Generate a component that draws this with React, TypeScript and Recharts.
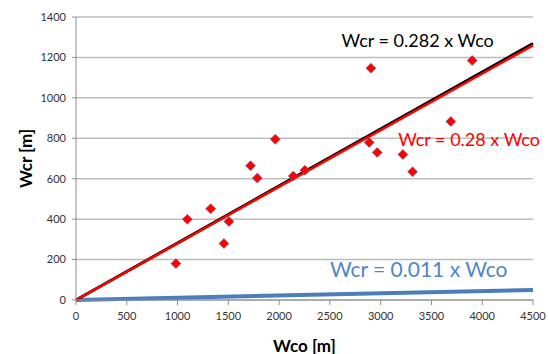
import React from 'react';
import {
  ComposedChart,
  Scatter,
  Line,
  XAxis,
  YAxis,
  CartesianGrid,
  ReferenceDot,
  Label,
} from 'recharts';

// measured points: Wco [m] vs Wcr [m]
const wco = [984, 1096, 1326, 1457, 1506, 1719, 1785, 1962, 2139, 2254, 2887, 2904, 2966, 3219, 3314, 3691, 3901];
const wcr = [180, 399, 452, 279, 388, 664, 603, 795, 613, 642, 779, 1147, 730, 720, 634, 883, 1185];

// fitted lines (start / end points)
const fitBlack = [
  { x: 0, y: 0 },
  { x: 4500, y: 1269 },
];
const fitRed = [
  { x: 0, y: 0 },
  { x: 4500, y: 1260 },
];
const fitBlue = [
  { x: 0, y: 0 },
  { x: 4500, y: 49.5 },
];

const xTicks = [0, 500, 1000, 1500, 2000, 2500, 3000, 3500, 4000, 4500];
const yTicks = [0, 200, 400, 600, 800, 1000, 1200, 1400];

const points = wco.map((x, i) => ({ x, y: wcr[i] }));

const FONT = 'Lato, "Open Sans", sans-serif';

const Diamond = ({ cx, cy }: any) => (
  <polygon
    points={`${cx},${cy - 5} ${cx + 5},${cy} ${cx},${cy + 5} ${cx - 5},${cy}`}
    fill="#FF0000"
    stroke="#5B6BA8"
    strokeWidth={0.6}
  />
);

const note = (text: string, color: string, size: number) => (props: any) => (
  <text x={props.cx} y={props.cy} fill={color} fontSize={size} fontFamily={FONT} dominantBaseline="central">
    {text}
  </text>
);

const YTitle = ({ viewBox }: any) => {
  const cx = viewBox.x + 25;
  const cy = viewBox.y + viewBox.height / 2;
  return (
    <text
      x={cx}
      y={cy}
      transform={`rotate(-90 ${cx} ${cy})`}
      textAnchor="middle"
      dominantBaseline="central"
      fontSize={17}
      fontWeight="bold"
      fontFamily={FONT}
      fill="#000"
    >
      Wcr [m]
    </text>
  );
};

const XTitle = ({ viewBox }: any) => (
  <text
    x={viewBox.x + viewBox.width / 2}
    y={viewBox.y + 45}
    textAnchor="middle"
    dominantBaseline="central"
    fontSize={17}
    fontWeight="bold"
    fontFamily={FONT}
    fill="#000"
  >
    Wco [m]
  </text>
);

export default function App() {
  return (
    <div style={{ position: 'absolute', left: 0, top: 0, background: '#fff' }}>
      <ComposedChart width={549} height={354} margin={{ top: 17, right: 16, bottom: 0, left: 0 }}>
        <CartesianGrid vertical={false} stroke="#BDBDBD" strokeWidth={1.5} />
        <XAxis
          type="number"
          dataKey="x"
          domain={[0, 4500]}
          ticks={xTicks}
          interval={0}
          height={54}
          tickSize={5}
          tickMargin={7}
          stroke="#8C8C8C"
          tick={{ fill: '#333', fontSize: 11, fontFamily: FONT }}
        >
          <Label content={XTitle} />
        </XAxis>
        <YAxis
          type="number"
          domain={[0, 1400]}
          ticks={yTicks}
          interval={0}
          width={76}
          tickSize={4}
          tickMargin={6}
          stroke="#8C8C8C"
          tick={{ fill: '#333', fontSize: 11, fontFamily: FONT }}
        >
          <Label content={YTitle} />
        </YAxis>
        <Scatter data={points} dataKey="y" shape={Diamond} isAnimationActive={false} />
        <Line data={fitBlue} dataKey="y" stroke="#4A7EBB" strokeWidth={4} dot={false} isAnimationActive={false} />
        <Line data={fitBlack} dataKey="y" stroke="#000" strokeWidth={3} dot={false} isAnimationActive={false} />
        <Line data={fitRed} dataKey="y" stroke="#FF0000" strokeWidth={2.5} dot={false} isAnimationActive={false} />
        <ReferenceDot x={2615} y={1284} shape={note('Wcr = 0.282 x Wco', '#000', 18)} />
        <ReferenceDot x={3172} y={795} shape={note('Wcr = 0.28 x Wco', '#FF0000', 18)} />
        <ReferenceDot x={2500} y={154} shape={note('Wcr = 0.011 x Wco', '#4F86C6', 21)} />
      </ComposedChart>
    </div>
  );
}
